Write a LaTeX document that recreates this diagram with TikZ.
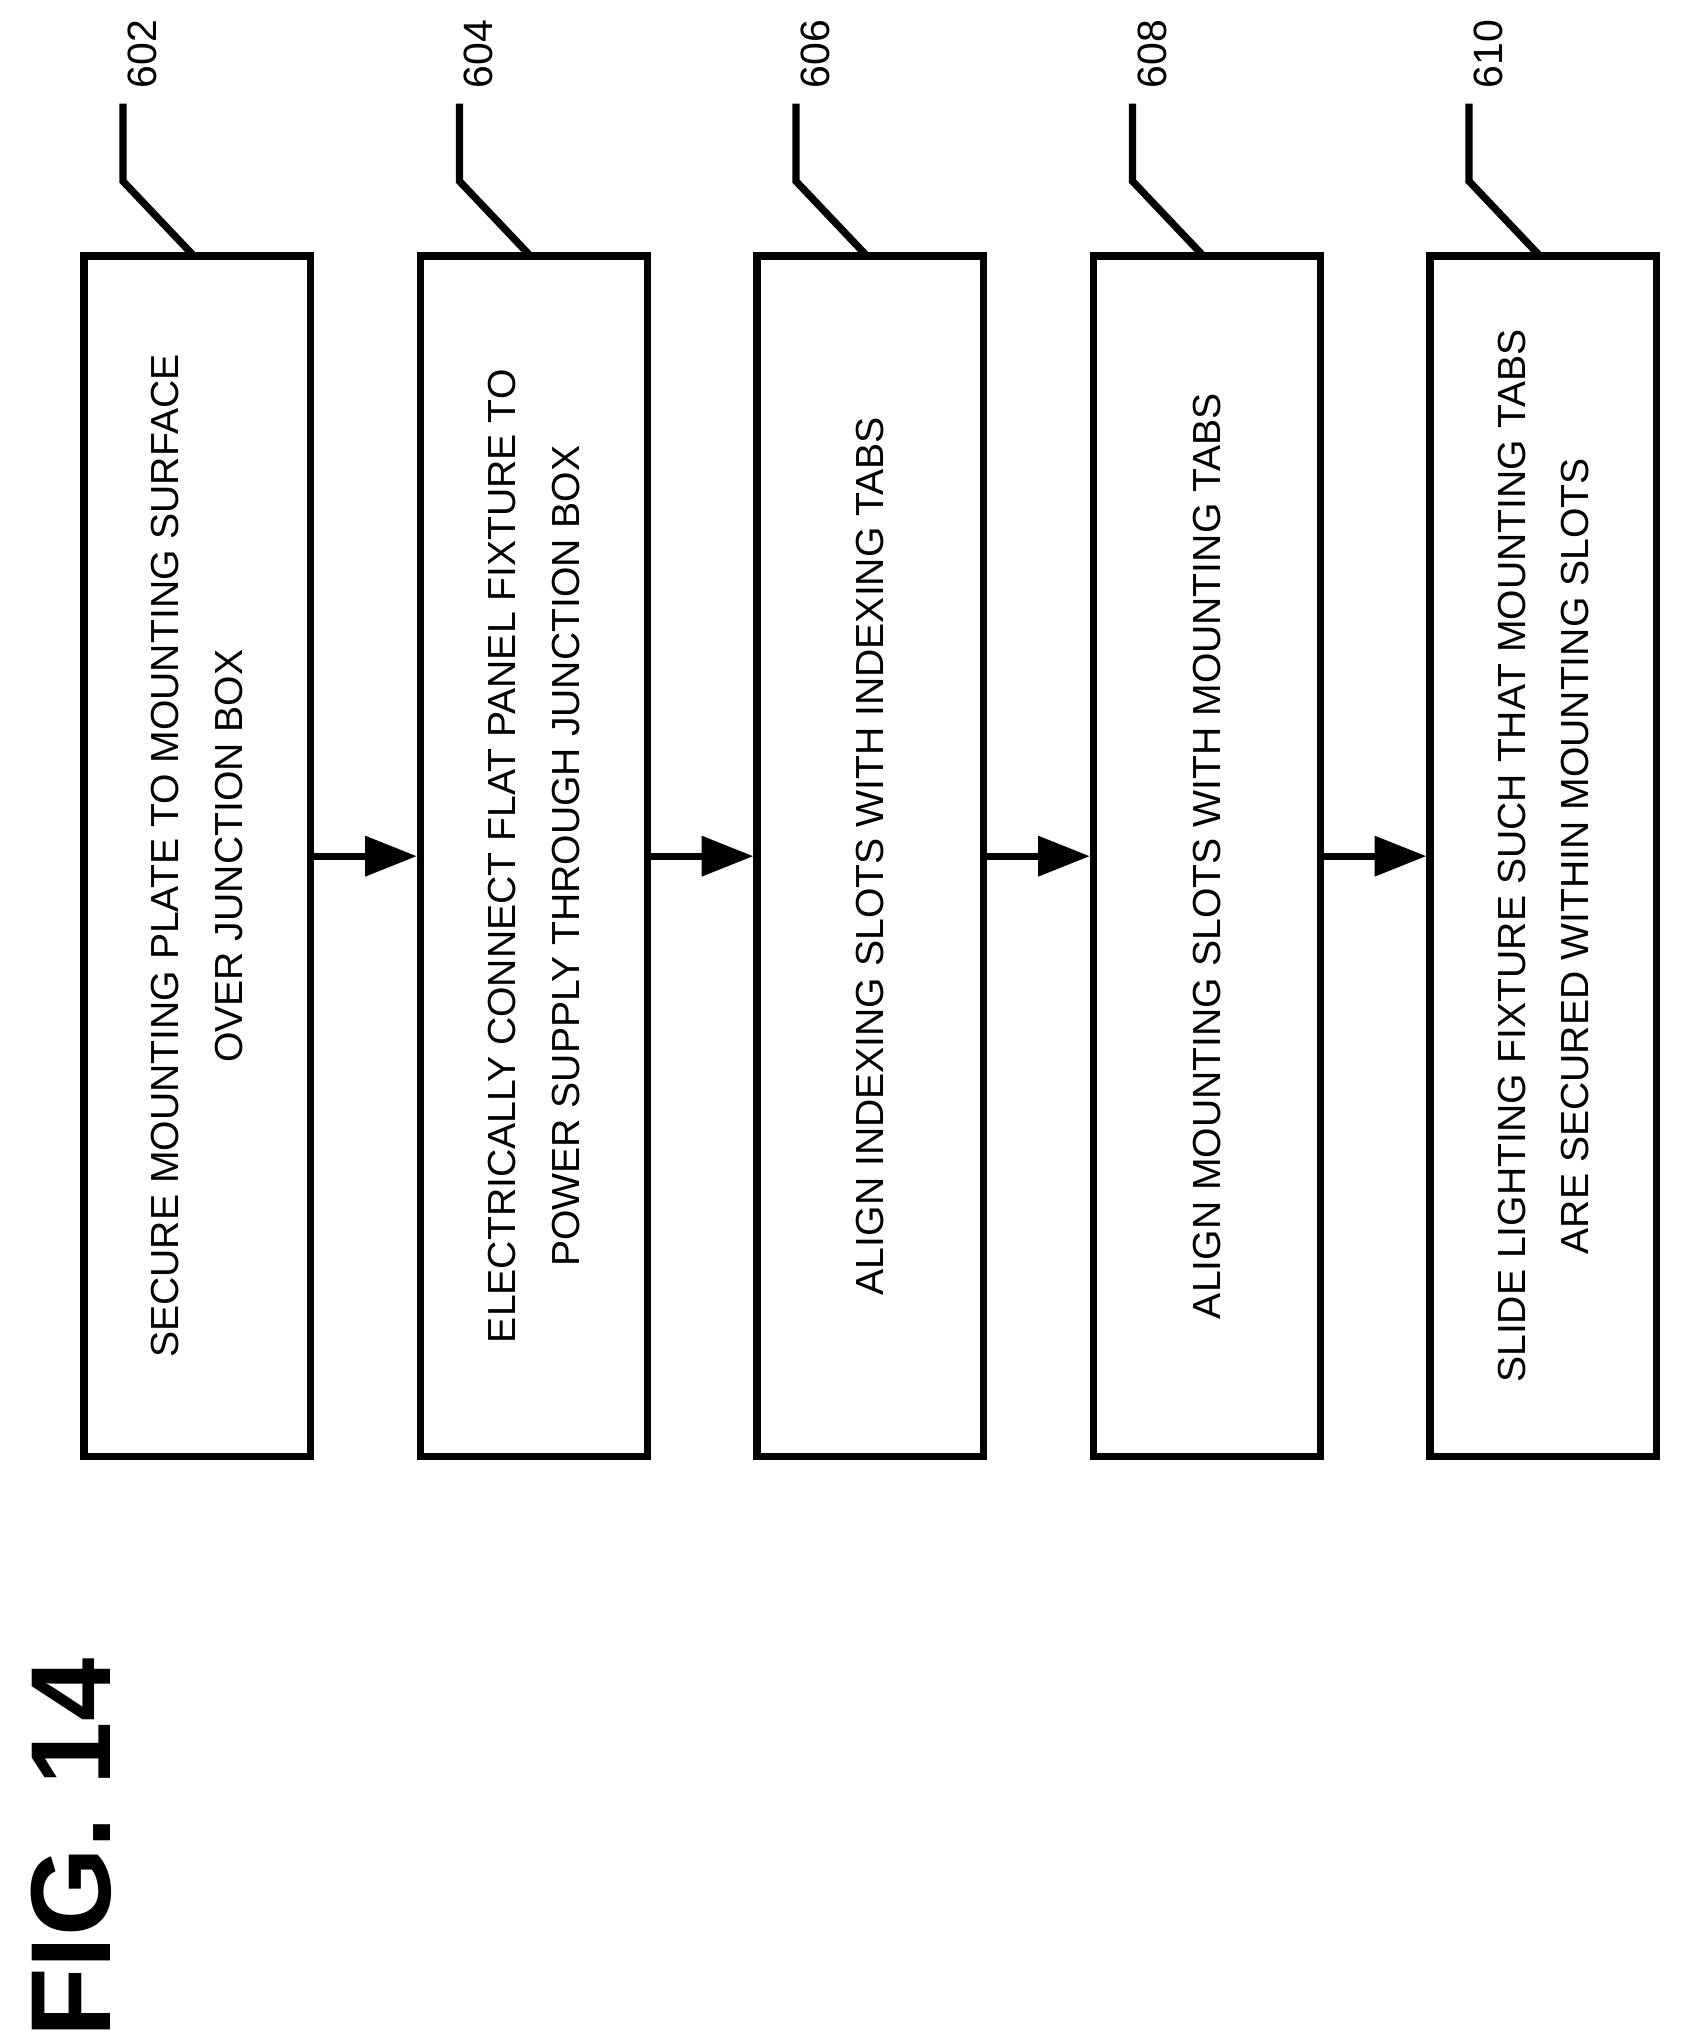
\documentclass[tikz,border=0pt]{standalone}
\usepackage{fontspec}
\setmainfont{Liberation Sans}
\usetikzlibrary{arrows.meta}
\tikzset{
  stepbox/.style={draw,line width=1.6pt,minimum width=9.27cm,minimum height=1.75cm,
    inner sep=2pt,rotate=90,align=center,font=\fontsize{8.6}{14}\selectfont},
  flow/.style={line width=1.6pt,-{Triangle[length=0.4cm,width=0.3cm]}},
  lead/.style={line width=1.6pt},
  ref/.style={rotate=90,font=\fontsize{9}{11}\selectfont}
}
\begin{document}
\begin{tikzpicture}[x=0.01cm,y=-0.01cm]
  \useasboundingbox (0,0) rectangle (1300,1570);
  \node[stepbox] (s602) at (152.5,661.5) {SECURE MOUNTING PLATE TO MOUNTING SURFACE\\OVER JUNCTION BOX};
  \node[stepbox] (s604) at (412.5,661.5) {ELECTRICALLY CONNECT FLAT PANEL FIXTURE TO\\POWER SUPPLY THROUGH JUNCTION BOX};
  \node[stepbox] (s606) at (672.5,661.5) {ALIGN INDEXING SLOTS WITH INDEXING TABS};
  \node[stepbox] (s608) at (932.5,661.5) {ALIGN MOUNTING SLOTS WITH MOUNTING TABS};
  \node[stepbox] (s610) at (1192.5,661.5) {SLIDE LIGHTING FIXTURE SUCH THAT MOUNTING TABS\\ARE SECURED WITHIN MOUNTING SLOTS};
  \draw[flow] (s602.south) -- (s604.north);
  \draw[flow] (s604.south) -- (s606.north);
  \draw[flow] (s606.south) -- (s608.north);
  \draw[flow] (s608.south) -- (s610.north);
  % reference numerals
  \foreach \n/\x in {602/95,604/355,606/615,608/875,610/1135}{
    \node[ref] (r\n) at (\x+15,42) {\n};
    \coordinate (k\n) at (\x,140);
    \draw[lead] (\x,80) -- (k\n) -- (\x+55,198);
  }
  \node[rotate=90,font=\bfseries\fontsize{25}{27}\selectfont] (fig) at (55,1428) {FIG. 14};
\end{tikzpicture}
\end{document}
